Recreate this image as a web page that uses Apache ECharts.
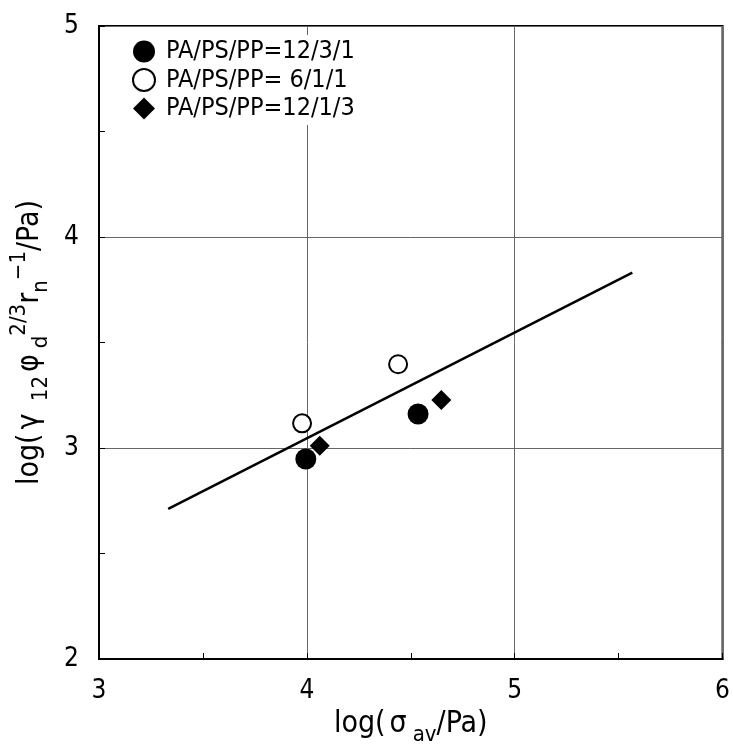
<!DOCTYPE html>
<html>
<head>
<meta charset="utf-8">
<script src="https://cdn.jsdelivr.net/npm/echarts@6/dist/echarts.min.js"></script>
<style>
  html, body { margin: 0; padding: 0; background: #fff; }
  #chart { width: 733px; height: 751px; }
</style>
</head>
<body>
<div id="chart"></div>
<script>
// Blend compositions
const seriesNames = ['PA/PS/PP=12/3/1', 'PA/PS/PP= 6/1/1', 'PA/PS/PP=12/1/3'];

// log(sigma_av / Pa) for each composition
const xBlend1 = [3.995, 4.535];
const xBlend2 = [3.977, 4.439];
const xBlend3 = [4.062, 4.647];

// log(gamma12 * phi_d^(2/3) * r_n^-1 / Pa)
const yBlend1 = [2.948, 3.161];
const yBlend2 = [3.117, 3.397];
const yBlend3 = [3.011, 3.227];

// Fitted line end points
const fitX = [3.333, 5.566];
const fitY = [2.711, 3.831];

// Axis ranges and ticks
const xTicks = [3, 4, 5, 6];
const yTicks = [2, 3, 4, 5];

const FONT = "'DejaVu Sans Condensed', 'Liberation Sans', sans-serif";

const pairs = (xs, ys) => xs.map((x, i) => [x, ys[i]]);

const chart = echarts.init(document.getElementById('chart'), null, { renderer: 'canvas' });

const axisCommon = {
  type: 'value',
  axisLine: { show: true, lineStyle: { color: '#000', width: 2 } },
  axisTick: { show: true, inside: true, length: 6, lineStyle: { color: '#000', width: 1 } },
  minorTick: { show: true, splitNumber: 2, length: 6, lineStyle: { color: '#000', width: 1 } },
  splitLine: { show: true, lineStyle: { color: '#666', width: 1 } },
  axisLabel: { color: '#000', fontSize: 26, fontFamily: FONT }
};

// Rich-text styles for the axis titles (main text, Greek letters, sub/superscripts)
const titleRich = {
  m: { fontSize: 30, fontFamily: FONT, color: '#000', lineHeight: 44 },
  g: { fontSize: 30, fontFamily: FONT, color: '#000', lineHeight: 44, padding: [0, 6, 0, 4] },
  s: { fontSize: 22, fontFamily: FONT, color: '#000', lineHeight: 20, verticalAlign: 'bottom' },
  p: { fontSize: 22, fontFamily: FONT, color: '#000', lineHeight: 20, verticalAlign: 'top' }
};

const option = {
  backgroundColor: '#fff',
  animation: false,
  grid: {
    left: 99, right: 10, top: 26, bottom: 92,
    show: true, borderColor: '#000', borderWidth: 2, backgroundColor: 'transparent'
  },
  xAxis: Object.assign({}, axisCommon, {
    min: xTicks[0], max: xTicks[xTicks.length - 1], interval: 1,
    axisLabel: Object.assign({}, axisCommon.axisLabel, { margin: 19 }),
    name: '{m|log(}{g|σ}{s|av}{m|/Pa)}',
    nameLocation: 'middle',
    nameGap: 42,
    nameTextStyle: { rich: titleRich }
  }),
  yAxis: Object.assign({}, axisCommon, {
    min: yTicks[0], max: yTicks[yTicks.length - 1], interval: 1,
    axisLabel: Object.assign({}, axisCommon.axisLabel, { margin: 20 }),
    name: '{m|log(}{g|γ}{s| 12}{g|φ}{s|d}{p|2/3}{m|r}{s|n}{p|−1}{m|/Pa)}',
    nameLocation: 'middle',
    nameRotate: 90,
    nameGap: 47,
    nameTextStyle: { rich: titleRich }
  }),
  legend: {
    orient: 'vertical',
    left: 128,
    top: 35,
    padding: [4, 6, 4, 4],
    backgroundColor: '#fff',
    itemWidth: 22,
    itemHeight: 22,
    itemGap: 3.5,
    textStyle: { fontSize: 25, fontFamily: FONT, color: '#000', padding: [0, 0, 0, 6], lineHeight: 22 },
    data: seriesNames
  },
  series: [
    {
      name: 'fit',
      type: 'line',
      data: pairs(fitX, fitY),
      showSymbol: false,
      symbol: 'none',
      lineStyle: { color: '#000', width: 2.5 },
      z: 3
    },
    {
      name: seriesNames[0],
      type: 'scatter',
      symbol: 'circle',
      symbolSize: 21,
      itemStyle: { color: '#000', opacity: 1 },
      data: pairs(xBlend1, yBlend1),
      z: 4
    },
    {
      name: seriesNames[1],
      type: 'scatter',
      symbol: 'circle',
      symbolSize: 18,
      itemStyle: { color: '#fff', borderColor: '#000', borderWidth: 2, opacity: 1 },
      data: pairs(xBlend2, yBlend2),
      z: 4
    },
    {
      name: seriesNames[2],
      type: 'scatter',
      symbol: 'diamond',
      symbolSize: 20,
      itemStyle: { color: '#000', opacity: 1 },
      data: pairs(xBlend3, yBlend3),
      z: 4
    }
  ]
};

chart.setOption(option);
</script>
</body>
</html>
